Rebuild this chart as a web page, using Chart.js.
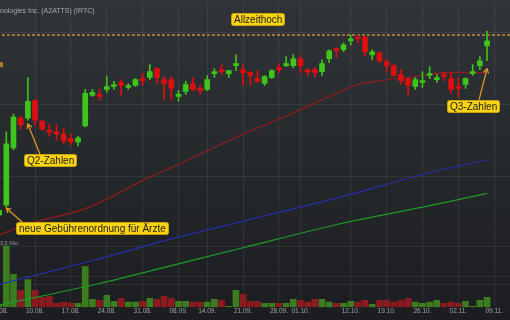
<!DOCTYPE html>
<html>
<head>
<meta charset="utf-8">
<script src="https://cdn.jsdelivr.net/npm/chart.js@4.4.0/dist/chart.umd.min.js"></script>
<style>
    html, body { margin: 0; padding: 0; background: #1c1e21; }
    #wrap {
        width: 510px; height: 320px;
        background: linear-gradient(to bottom, #303438 0%, #26292c 50%, #1b1d20 100%);
    }
    canvas { display: block; }
</style>
</head>
<body>
<div id="wrap"><canvas id="chart" width="510" height="320"></canvas></div>
<script>
// trading days shown (09.11. has no candle yet)
var days = [
    '03.08.', '04.08.', '05.08.', '06.08.', '07.08.', '10.08.', '11.08.', '12.08.', '13.08.', '14.08.',
    '17.08.', '18.08.', '19.08.', '20.08.', '21.08.', '24.08.', '25.08.', '26.08.', '27.08.', '28.08.',
    '31.08.', '01.09.', '02.09.', '03.09.', '04.09.', '08.09.', '09.09.', '10.09.', '11.09.', '14.09.',
    '15.09.', '16.09.', '17.09.', '18.09.', '21.09.', '22.09.', '23.09.', '24.09.', '25.09.', '28.09.',
    '29.09.', '30.09.', '01.10.', '02.10.', '05.10.', '06.10.', '07.10.', '08.10.', '09.10.', '12.10.',
    '13.10.', '14.10.', '15.10.', '16.10.', '19.10.', '20.10.', '21.10.', '22.10.', '23.10.', '26.10.',
    '27.10.', '28.10.', '29.10.', '30.10.', '02.11.', '03.11.', '04.11.', '05.11.', '06.11.', '09.11.'
];
var tickDays = ['03.08.', '10.08.', '17.08.', '24.08.', '31.08.', '08.09.', '14.09.', '21.09.',
    '28.09.', '01.10.', '12.10.', '19.10.', '26.10.', '02.11.', '09.11.'];

var open = [73.6, 80.5, 120.1, 140.7, 140.7, 153.0, 138.6, 132.4, 131.1, 129.7,
    126.3, 124.2, 135.2, 156.4, 157.1, 160.5, 162.5, 165.3, 161.9, 163.2,
    168.0, 168.7, 174.9, 167.3, 167.3, 155.7, 159.1, 164.6, 161.2, 160.5,
    171.4, 174.2, 171.4, 176.9, 174.2, 172.1, 168.0, 164.6, 168.7, 175.5,
    176.9, 176.9, 181.7, 174.2, 174.2, 172.8, 181.7, 188.5, 187.9, 194.0,
    196.7, 196.7, 184.4, 185.8, 179.6, 176.9, 170.8, 168.0, 162.5, 165.3,
    170.1, 167.3, 170.8, 168.0, 162.5, 163.9, 171.4, 176.9, 190.6];
var high = [79.1, 131.1, 143.4, 142.0, 168.7, 153.7, 139.3, 136.6, 135.9, 133.8,
    129.7, 128.3, 160.5, 160.5, 160.5, 169.4, 166.0, 167.3, 164.6, 168.0,
    171.4, 177.6, 175.5, 169.4, 169.4, 159.8, 166.0, 168.7, 163.2, 170.1,
    174.9, 177.6, 173.5, 184.4, 177.6, 172.8, 173.5, 170.1, 174.2, 178.3,
    183.1, 184.4, 183.7, 174.9, 175.5, 181.0, 187.9, 189.2, 192.6, 198.1,
    198.1, 197.4, 187.9, 186.5, 181.7, 177.6, 174.2, 168.7, 168.7, 172.8,
    176.2, 170.8, 172.1, 172.1, 168.7, 168.7, 177.6, 183.1, 200.8];
var low = [72.3, 79.1, 118.8, 133.1, 139.3, 135.9, 132.4, 128.3, 125.6, 122.9,
    122.2, 121.5, 134.5, 155.7, 153.0, 158.4, 160.5, 156.4, 160.5, 162.5,
    163.2, 167.3, 164.6, 153.7, 153.0, 152.3, 157.1, 159.8, 157.1, 159.8,
    168.7, 170.8, 168.7, 173.5, 163.2, 163.2, 165.3, 163.2, 168.0, 172.1,
    176.2, 175.5, 172.1, 170.1, 168.7, 170.1, 179.0, 182.4, 186.5, 191.3,
    192.6, 183.7, 181.0, 179.0, 172.8, 169.4, 163.9, 156.4, 160.5, 161.9,
    168.0, 165.3, 166.6, 157.8, 155.0, 161.2, 170.1, 174.2, 180.3];
var close = [77.0, 122.9, 141.3, 135.9, 152.3, 139.3, 133.1, 131.1, 129.7, 124.9,
    124.2, 127.0, 157.8, 158.4, 155.7, 162.5, 163.9, 163.2, 163.2, 167.3,
    166.6, 172.8, 168.7, 164.6, 161.2, 157.1, 163.9, 160.5, 159.8, 167.3,
    172.8, 172.8, 173.5, 178.3, 172.1, 170.1, 166.0, 169.4, 173.5, 174.2,
    178.3, 181.7, 176.9, 172.8, 172.1, 178.3, 187.2, 187.2, 191.3, 195.4,
    195.4, 186.5, 186.5, 180.3, 176.9, 170.1, 166.6, 163.2, 167.3, 166.6,
    171.4, 168.7, 169.4, 160.5, 161.2, 168.0, 172.8, 180.3, 194.0];
// volume in Mio.
var volume = [0.17, 3.56, 1.9, 0.98, 1.6, 0.98, 0.57, 0.63, 0.23, 0.29,
    0.23, 0.23, 2.35, 0.46, 0.40, 0.69, 0.34, 0.52, 0.29, 0.29,
    0.34, 0.52, 0.46, 0.63, 0.52, 0.34, 0.34, 0.29, 0.29, 0.29,
    0.46, 0.40, 0.05, 0.98, 0.75, 0.34, 0.34, 0.23, 0.23, 0.23,
    0.23, 0.46, 0.40, 0.29, 0.46, 0.46, 0.29, 0.23, 0.23, 0.34,
    0.29, 0.40, 0.17, 0.40, 0.40, 0.29, 0.40, 0.52, 0.29, 0.23,
    0.29, 0.40, 0.23, 0.29, 0.23, 0.34, 0.05, 0.40, 0.57];

var ma38Days = [0, 3, 6, 11, 15, 20, 24, 29, 34, 39, 44, 47, 50, 54, 59, 62, 68];
var ma38 = [60.0, 65.4, 70.2, 76.4, 84.6, 97.6, 106.5, 118.1, 129.7, 140.0, 150.9, 157.8, 163.9, 167.0, 170.1, 172.1, 172.1];
var ma100Days = [0, 14, 24, 34, 48, 59, 68];
var ma100 = [25.7, 43.5, 57.2, 69.5, 86.6, 101.7, 111.9];
var ma200Days = [0, 14, 24, 34, 48, 59, 68];
var ma200 = [11.4, 26.4, 38.7, 51.1, 68.2, 79.1, 88.7];

var athLevel = 198.1;
var title = 'iRhythm Technologies Inc. (A2ATTS) (IRTC)';

var UP = '#3ec41b', DOWN = '#de0f0f';
var VOL_UP = '#3c7d20', VOL_DOWN = '#8c1b21';
var FONT = '"Liberation Sans", Arial, sans-serif';

var candleColors = [];
var volColors = [];
var bodies = [];
var wicks = [];
var vols = [];
for (var i = 0; i < close.length; i++) {
    var up = close[i] >= open[i];
    candleColors.push(up ? UP : DOWN);
    volColors.push(up ? VOL_UP : VOL_DOWN);
    bodies.push({x: i, y: [open[i], close[i]]});
    wicks.push({x: i, y: [low[i], high[i]]});
    vols.push({x: i, y: volume[i]});
}
function pairs(xs, ys) {
    return xs.map(function (x, k) { return {x: x, y: ys[k]}; });
}

// yellow boxes + arrows (layout only, anchored to candles)
var noteLayout = [
    {text: 'neue Gebührenordnung für Ärzte', day: 1, gap: 1, dx: 10, dy: 14, tail: 6},
    {text: 'Q2-Zahlen', day: 4, gap: 4, dx: -4, dy: 30, tail: 16},
    {text: 'Q3-Zahlen', day: 68, gap: 8, dx: -40, dy: 31, tail: 32}
];

function drawBox(ctx, text, left, top) {
    ctx.font = '10px ' + FONT;
    var w = Math.round(ctx.measureText(text).width + 5), h = 12;
    ctx.fillStyle = '#f9d316';
    ctx.strokeStyle = '#c9a20a';
    ctx.lineWidth = 1;
    ctx.beginPath();
    ctx.roundRect(Math.round(left) + 0.5, Math.round(top) + 0.5, w, h, 2);
    ctx.fill();
    ctx.stroke();
    ctx.fillStyle = '#1e1e1e';
    ctx.textBaseline = 'middle';
    ctx.textAlign = 'left';
    ctx.fillText(text, Math.round(left) + 3, Math.round(top) + h / 2 + 1);
    return w;
}

function drawArrow(ctx, x1, y1, x2, y2) {
    ctx.strokeStyle = '#e39b20';
    ctx.lineWidth = 1.2;
    ctx.beginPath();
    ctx.moveTo(x1, y1);
    ctx.lineTo(x2, y2);
    ctx.stroke();
    var a = Math.atan2(y2 - y1, x2 - x1);
    ctx.beginPath();
    ctx.moveTo(x2 - 5 * Math.cos(a - 0.55), y2 - 5 * Math.sin(a - 0.55));
    ctx.lineTo(x2, y2);
    ctx.lineTo(x2 - 5 * Math.cos(a + 0.55), y2 - 5 * Math.sin(a + 0.55));
    ctx.stroke();
}

var overlay = {
    id: 'overlay',
    afterDatasetsDraw: function (chart) {
        var ctx = chart.ctx, xs = chart.scales.x, ys = chart.scales.y;
        ctx.save();
        noteLayout.forEach(function (n) {
            var tx = xs.getPixelForValue(n.day);
            var ty = ys.getPixelForValue(low[n.day]) + n.gap;
            var left = tx + n.dx, top = ty + n.dy;
            drawArrow(ctx, left + n.tail, top, tx, ty);
            drawBox(ctx, n.text, left, top);
        });
        // Allzeithoch label above the dashed line
        ctx.font = '10px ' + FONT;
        var w = ctx.measureText('Allzeithoch').width + 5;
        drawBox(ctx, 'Allzeithoch', xs.getPixelForValue(36) - w / 2, ys.getPixelForValue(athLevel) - 22);
        // cut-off marker at left edge
        ctx.fillStyle = '#b07a2c';
        ctx.fillRect(-6, ys.getPixelForValue(177.6) - 2.5, 9, 5);
        // title, cut at the left border like the original
        ctx.font = '7px ' + FONT;
        ctx.fillStyle = '#a6aaae';
        ctx.textBaseline = 'middle';
        ctx.fillText(title, -ctx.measureText('iRhythm Tech').width, 11);
        ctx.restore();
    }
};

var gridColor = 'rgba(255,255,255,0.07)';

var ctx = document.getElementById('chart');
var myChart = new Chart(ctx, {
    type: 'bar',
    data: {
        datasets: [{
            label: 'body',
            data: bodies,
            backgroundColor: candleColors,
            barThickness: 5,
            minBarLength: 1.5,
            grouped: false,
            order: 0
        }, {
            label: 'wick',
            data: wicks,
            backgroundColor: candleColors,
            barThickness: 1,
            grouped: false,
            order: 1
        }, {
            type: 'line',
            label: 'Allzeithoch',
            data: [{x: -1, y: athLevel}, {x: 72, y: athLevel}],
            borderColor: '#c4913a',
            borderWidth: 1.5,
            borderDash: [3, 2],
            pointRadius: 0,
            order: 2
        }, {
            type: 'line',
            label: 'GD38',
            data: pairs(ma38Days, ma38),
            borderColor: '#981c1c',
            borderWidth: 1.2,
            pointRadius: 0,
            tension: 0.3,
            order: 3
        }, {
            type: 'line',
            label: 'GD100',
            data: pairs(ma100Days, ma100),
            borderColor: '#2330a8',
            borderWidth: 1.2,
            pointRadius: 0,
            tension: 0.3,
            order: 3
        }, {
            type: 'line',
            label: 'GD200',
            data: pairs(ma200Days, ma200),
            borderColor: '#1f9a28',
            borderWidth: 1.2,
            pointRadius: 0,
            tension: 0.3,
            order: 3
        }, {
            label: 'Volumen',
            data: vols,
            yAxisID: 'yv',
            backgroundColor: volColors,
            barThickness: 6,
            grouped: false,
            order: 5
        }]
    },
    options: {
        responsive: false,
        animation: false,
        devicePixelRatio: 1,
        layout: {autoPadding: false, padding: {left: 0, right: 0, top: 0, bottom: 5}},
        plugins: {legend: {display: false}, tooltip: {enabled: false}},
        scales: {
            x: {
                type: 'linear',
                min: 0.12,
                max: 71.2,
                offset: false,
                afterBuildTicks: function (axis) {
                    axis.ticks = tickDays.map(function (d) { return {value: days.indexOf(d)}; });
                },
                afterFit: function (axis) {
                    // first label is cut by the border, don't shrink the plot for it
                    axis.paddingLeft = 0;
                    axis.paddingRight = 0;
                },
                ticks: {
                    autoSkip: false,
                    maxRotation: 0,
                    padding: 0,
                    color: '#9ea2a6',
                    font: {size: 6.5, family: FONT},
                    callback: function (v) { return days[v]; }
                },
                grid: {color: gridColor, drawTicks: false, offset: false},
                border: {display: false}
            },
            y: {
                min: 10,
                max: 220,
                afterBuildTicks: function (axis) {
                    axis.ticks = [100, 150, 200].map(function (v) { return {value: v}; });
                },
                ticks: {display: false},
                grid: {color: gridColor, drawTicks: false},
                border: {display: false}
            },
            yv: {
                position: 'left',
                min: 0,
                max: 17.6,
                afterBuildTicks: function (axis) {
                    axis.ticks = [1.3, 1.75, 3.5].map(function (v) { return {value: v}; });
                },
                ticks: {
                    mirror: true,
                    padding: 0,
                    labelOffset: -3,
                    color: '#9a9a9a',
                    font: {size: 5.5, family: FONT},
                    callback: function (v) { return v === 3.5 ? '3.5 Mio.' : ''; }
                },
                grid: {color: gridColor, drawTicks: false},
                border: {display: false}
            }
        }
    },
    plugins: [overlay]
});
</script>
</body>
</html>
